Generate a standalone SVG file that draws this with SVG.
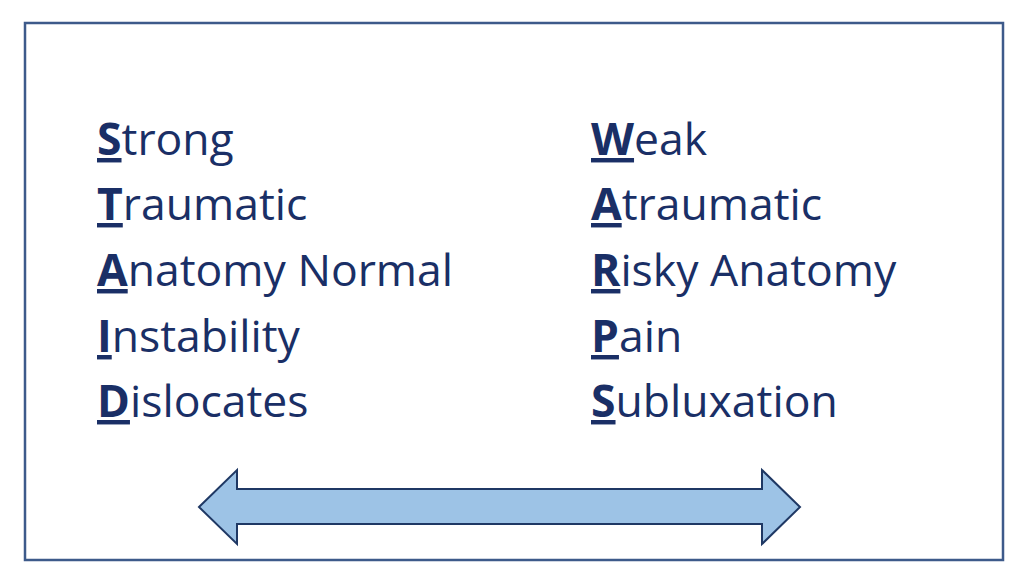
<svg xmlns="http://www.w3.org/2000/svg" width="1024" height="576" viewBox="0 0 1024 576">
<style>
text{font-family:"Open Sans","Liberation Sans",sans-serif;font-size:44.5px;fill:#1a2f66}
.b{font-weight:bold;text-decoration:underline}
</style>
<rect width="1024" height="576" fill="#fff"/>
<rect x="25" y="23" width="978" height="537" fill="none" stroke="#3d5a8a" stroke-width="2.5"/>
<g id="left">
<text x="97" y="155"><tspan class="b">S</tspan>trong</text>
<text x="97" y="220"><tspan class="b">T</tspan>raumatic</text>
<text x="97" y="286"><tspan class="b">A</tspan>natomy Normal</text>
<text x="97" y="352"><tspan class="b">I</tspan>nstability</text>
<text x="97" y="417"><tspan class="b">D</tspan>islocates</text>
</g>
<g id="right">
<text x="591" y="155"><tspan class="b">W</tspan>eak</text>
<text x="591" y="220"><tspan class="b">A</tspan>traumatic</text>
<text x="591" y="286"><tspan class="b">R</tspan>isky Anatomy</text>
<text x="591" y="352"><tspan class="b">P</tspan>ain</text>
<text x="591" y="417"><tspan class="b">S</tspan>ubluxation</text>
</g>
<g id="connectors">
<path d="M199 507 L237 470 L237 489 L762 489 L762 470 L800 507 L762 544 L762 524 L237 524 L237 544 Z" fill="#9dc3e6" stroke="#1f3864" stroke-width="2"/>
</g>
</svg>
